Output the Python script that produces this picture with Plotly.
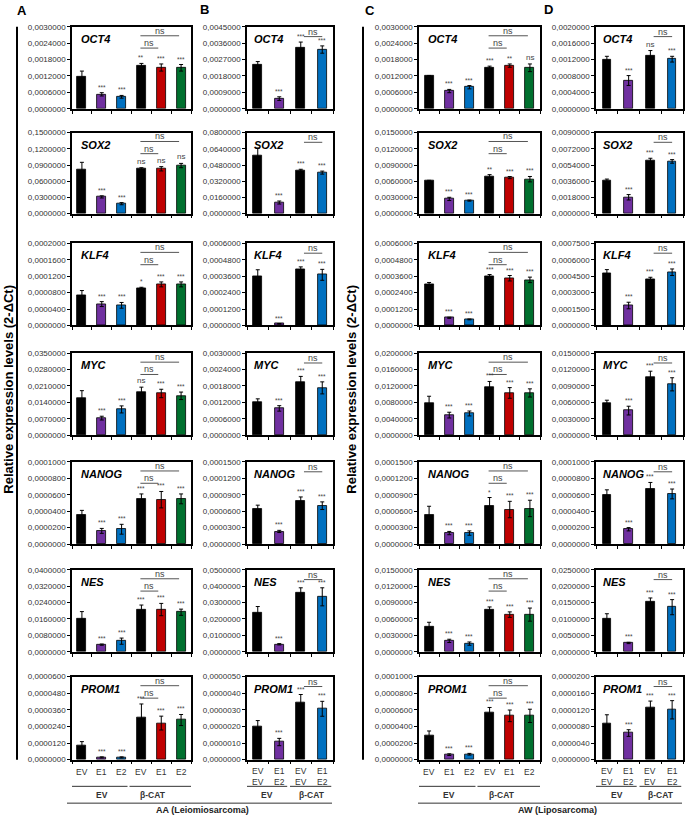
import plotly.graph_objects as go

W, H = 685, 822

GENES = ['OCT4', 'SOX2', 'KLF4', 'MYC', 'NANOG', 'NES', 'PROM1']

# ---- Panel A: AA, EV / beta-CAT x EV E1 E2 ----
A_YMAX = [0.003, 0.15, 0.0002, 0.035, 0.0001, 0.04, 0.00006]
A_MEAN = [
    [0.00118, 0.00053, 0.00044, 0.00157, 0.00151, 0.00150],
    [0.082, 0.031, 0.0185, 0.083, 0.083, 0.089],
    [0.000074, 0.000052, 0.000049, 0.000091, 0.0001, 0.0001],
    [0.0157, 0.0073, 0.011, 0.0185, 0.0178, 0.0168],
    [0.000035, 0.000016, 0.000018, 0.000055, 0.000054, 0.000055],
    [0.016, 0.0035, 0.0052, 0.0206, 0.0206, 0.0193],
    [0.0000105, 0.0000016, 0.0000016, 0.0000302, 0.0000264, 0.0000286],
]
A_ERR = [
    [0.0002, 0.00006, 0.00005, 0.00009, 0.00013, 0.00012],
    [0.013, 0.002, 0.002, 0.002, 0.004, 0.004],
    [0.000011, 0.000006, 0.000007, 0.000002, 0.000006, 0.000006],
    [0.0033, 0.0008, 0.0015, 0.002, 0.0018, 0.0016],
    [0.000006, 0.000003, 0.000006, 0.000006, 0.00001, 0.000006],
    [0.0036, 0.0003, 0.0015, 0.0022, 0.003, 0.0015],
    [0.0000025, 0.0000004, 0.0000004, 0.00001, 0.000005, 0.000004],
]
A_SIG = [
    ['', '***', '***', '**', '***', '***'],
    ['', '***', '***', 'ns', 'ns', 'ns'],
    ['', '***', '***', '*', '***', '***'],
    ['', '***', '***', 'ns', '***', '***'],
    ['', '***', '***', '***', '***', '***'],
    ['', '***', '***', '***', '***', '***'],
    ['', '***', '***', '***', '***', '***'],
]

# ---- Panel B: AA, EV/EV E1/E2 x EV / beta-CAT ----
B_YMAX = [0.0045, 0.08, 0.0006, 0.003, 0.00015, 0.05, 0.000005]
B_MEAN = [
    [0.00244, 0.00056, 0.00336, 0.00325],
    [0.0573, 0.011, 0.0428, 0.0405],
    [0.000357, 0.000012, 0.000408, 0.00037],
    [0.00121, 0.00098, 0.00193, 0.00173],
    [0.000065, 0.000023, 0.000079, 0.00007],
    [0.0241, 0.0046, 0.0362, 0.0335],
    [0.000002, 0.00000106, 0.00000342, 0.00000306],
]
B_ERR = [
    [0.00015, 0.0001, 0.0003, 0.0002],
    [0.0074, 0.0015, 0.001, 0.0015],
    [0.00005, 0.000002, 0.00002, 0.00004],
    [0.00012, 0.0001, 0.00022, 0.00022],
    [0.000006, 0.000002, 0.000007, 0.000007],
    [0.0035, 0.0004, 0.0028, 0.0055],
    [0.00000035, 0.00000022, 0.0000005, 0.00000045],
]
B_SIG = [['', '***', '***', '***']] * 7

# ---- Panel C: AW ----
C_YMAX = [0.003, 0.015, 0.0006, 0.02, 0.00015, 0.015, 0.0001]
C_MEAN = [
    [0.0012, 0.00065, 0.00079, 0.00149, 0.00158, 0.0015],
    [0.00607, 0.00273, 0.00242, 0.00692, 0.00667, 0.00638],
    [0.000304, 0.000056, 0.000044, 0.000357, 0.000345, 0.000333],
    [0.0077, 0.0049, 0.0053, 0.0117, 0.0103, 0.0103],
    [0.000053, 0.00002, 0.00002, 0.00007, 0.000063, 0.000065],
    [0.0045, 0.002, 0.0015, 0.0077, 0.0068, 0.0068],
    [0.0000285, 0.000006, 0.0000065, 0.0000568, 0.0000527, 0.0000527],
]
C_ERR = [
    [0.00002, 0.00006, 0.00006, 0.00007, 0.00006, 0.00014],
    [0.0001, 0.0003, 0.0001, 0.0003, 0.0002, 0.0005],
    [0.00001, 0.000004, 0.000003, 0.000015, 0.00002, 0.00002],
    [0.0018, 0.0007, 0.0006, 0.0014, 0.0013, 0.001],
    [0.000016, 0.000003, 0.000004, 0.000015, 0.000015, 0.000015],
    [0.0009, 0.0003, 0.0003, 0.0005, 0.0005, 0.0012],
    [0.000006, 0.000001, 0.000001, 0.000006, 0.000007, 0.000008],
]
C_SIG = [
    ['', '***', '***', '***', '**', 'ns'],
    ['', '***', '***', '**', '***', '***'],
    ['', '***', '***', '***', '***', '***'],
    ['', '***', '***', '***', '***', '***'],
    ['', '***', '***', '*', '***', '***'],
    ['', '***', '***', '***', '***', '***'],
    ['', '***', '***', '***', '***', '***'],
]

# ---- Panel D: AW ----
D_YMAX = [0.002, 0.009, 0.00075, 0.015, 0.0001, 0.025, 0.00002]
D_MEAN = [
    [0.00119, 0.00069, 0.0013, 0.00121],
    [0.00364, 0.00182, 0.0059, 0.0058],
    [0.00048, 0.000182, 0.000425, 0.000486],
    [0.0059, 0.0045, 0.0106, 0.0093],
    [0.00006, 0.000018, 0.000067, 0.000061],
    [0.0101, 0.0027, 0.0152, 0.0136],
    [0.0000088, 0.0000064, 0.0000126, 0.000012],
]
D_ERR = [
    [0.00009, 0.00012, 0.00012, 0.00007],
    [0.0002, 0.0003, 0.00025, 0.0002],
    [0.00003, 0.00003, 0.000015, 0.00003],
    [0.0005, 0.0008, 0.0011, 0.0012],
    [0.000006, 0.000002, 0.000008, 0.000006],
    [0.0015, 0.0002, 0.0012, 0.0023],
    [0.000002, 0.0000008, 0.0000015, 0.0000022],
]
D_SIG = [['', '***', 'ns', '***']] + [['', '***', '***', '***']] * 6

LABELS6 = ['EV', 'E1', 'E2', 'EV', 'E1', 'E2']
LABELS4 = ['EV<br>EV', 'E1<br>E2', 'EV<br>EV', 'E1<br>E2']

COLORS6 = ['#000000', '#7030A0', '#0070C0', '#000000', '#C00000', '#00702E']
COLORS4 = ['#000000', '#7030A0', '#000000', '#0070C0']

# pixel layout of the plot boxes
PANEL_X = {'A': (72, 191), 'B': (247, 333), 'C': (419, 540), 'D': (596, 683)}
ROW_Y = [(23, 106), (130, 212), (242, 325), (353, 436), (463, 546), (572, 655), (680, 764)]

FONT = 'Liberation Sans, Arial, sans-serif'

panels = {
    'A': (A_YMAX, A_MEAN, A_ERR, A_SIG, LABELS6, COLORS6),
    'B': (B_YMAX, B_MEAN, B_ERR, B_SIG, LABELS4, COLORS4),
    'C': (C_YMAX, C_MEAN, C_ERR, C_SIG, LABELS6, COLORS6),
    'D': (D_YMAX, D_MEAN, D_ERR, D_SIG, LABELS4, COLORS4),
}


def px(x):
    return x / W


def py(y):
    return 1 - y / H


fig = go.Figure()
layout = {}
shapes = []
annotations = []
bottom_axis = {}


def note(**kw):
    kw.setdefault('xanchor', 'center')
    kw.setdefault('yanchor', 'middle')
    kw.setdefault('showarrow', False)
    annotations.append(kw)


k = 0
for name, (ymax, means, errs, sigs, labels, colors) in panels.items():
    n = len(labels)
    x0, x1 = PANEL_X[name]
    for r, gene in enumerate(GENES):
        k += 1
        sx = '' if k == 1 else str(k)
        xa, ya = 'x' + sx, 'y' + sx
        step = ymax[r] / 5
        tvals = [step * i for i in range(6)]
        layout['xaxis' + sx] = dict(
            domain=[px(x0), px(x1)], anchor=ya, range=[-0.5, n - 0.5],
            tickvals=[i - 0.5 for i in range(n + 1)], showticklabels=False,
            ticks='outside', ticklen=3, tickwidth=1, tickcolor='black',
            showline=True, mirror=True, linecolor='black', linewidth=1.6,
            showgrid=False, zeroline=False)
        layout['yaxis' + sx] = dict(
            domain=[py(ROW_Y[r][1]), py(ROW_Y[r][0])], anchor=xa,
            range=[0, ymax[r]], tickvals=tvals,
            ticktext=[f'{v:.7f}'.replace('.', ',') for v in tvals],
            ticks='outside', ticklen=3, tickwidth=1, tickcolor='black',
            tickfont=dict(family=FONT, size=8, color='#333'),
            showline=True, mirror=True, linecolor='black', linewidth=1.6,
            showgrid=False, zeroline=False)

        fig.add_trace(go.Bar(
            x=list(range(n)), y=means[r], xaxis=xa, yaxis=ya,
            width=0.45 if n == 6 else 0.4,
            marker=dict(color=colors, line=dict(color='black', width=0.8)),
            error_y=dict(type='data', array=errs[r], color='black',
                         thickness=1, width=2),
            showlegend=False, hoverinfo='y'))

        # gene name
        note(text=f'<b><i>{gene}</i></b>', xref=xa + ' domain', yref=ya + ' domain',
             x=0.06, y=0.95, xanchor='left', yanchor='top',
             font=dict(family=FONT, size=11, color='black'))

        # significance marks
        for i in range(n):
            s = sigs[r][i]
            if not s:
                continue
            note(text=s, xref=xa, yref=ya, x=i, y=means[r][i] + errs[r][i],
                 yanchor='bottom',
                 font=dict(family=FONT, size=8 if s == 'ns' else 6.5, color='#444'))

        # ns brackets
        if n == 6:
            brackets = [(2.95, 3.85, 0.74), (2.95, 4.9, 0.89)]
        else:
            brackets = [(2.15, 3.0, 0.88)]
        for bx0, bx1, by in brackets:
            shapes.append(dict(type='line', xref=xa, yref=ya + ' domain',
                               x0=bx0, x1=bx1, y0=by, y1=by,
                               line=dict(color='#555', width=1)))
            note(text='ns', xref=xa, yref=ya + ' domain', x=(bx0 + bx1) / 2, y=by,
                 yanchor='bottom', yshift=-2,
                 font=dict(family=FONT, size=9, color='#444'))
    bottom_axis[name] = 'x' + str(k)

# category labels under bottom row
for name, (ymax, means, errs, sigs, labels, colors) in panels.items():
    xa = bottom_axis[name]
    n = len(labels)
    for i, lab in enumerate(labels):
        note(text=lab, xref=xa, yref='paper', x=i, y=py(776 if n == 6 else 781),
             font=dict(family=FONT, size=8.5, color='#333'))
    if n == 6:
        groups = [(-0.55, 2.3, 1.0, 'EV'), (2.4, 5.65, 3.6, 'β-CAT')]
    else:
        groups = [(-0.6, 1.37, 0.45, 'EV'), (1.5, 3.42, 2.5, 'β-CAT')]
    for gx0, gx1, gl, gt in groups:
        shapes.append(dict(type='line', xref=xa, yref='paper', x0=gx0, x1=gx1,
                           y0=py(791), y1=py(791), line=dict(color='#333', width=1)))
        note(text=f'<b>{gt}</b>', xref=xa, yref='paper', x=gl, y=py(800),
             font=dict(family=FONT, size=8.5, color='#333'))

# cell line brackets
for lx0, lx1, tx, txt in [(67, 332, 202, 'AA (Leiomiosarcoma)'),
                          (418, 682, 557, 'AW (Liposarcoma)')]:
    shapes.append(dict(type='line', xref='paper', yref='paper', x0=px(lx0), x1=px(lx1),
                       y0=py(808), y1=py(808), line=dict(color='#333', width=1)))
    note(text=f'<b>{txt}</b>', xref='paper', yref='paper', x=px(tx), y=py(815),
         font=dict(family=FONT, size=9, color='#222'))

# y titles and left rules
for lx, tx in [(17, 9), (363, 352)]:
    shapes.append(dict(type='line', xref='paper', yref='paper', x0=px(lx), x1=px(lx),
                       y0=py(23), y1=py(764), line=dict(color='black', width=2)))
    note(text='<b>Relative expression levels (2-ΔCt)</b>', xref='paper', yref='paper',
         x=px(tx), y=py(390), textangle=-90,
         font=dict(family=FONT, size=13, color='black'))

# panel letters
for letter, lx, ly in [('A', 22, 7), ('B', 204, 6), ('C', 370, 7), ('D', 548, 6)]:
    note(text=f'<b>{letter}</b>', xref='paper', yref='paper', x=px(lx), y=py(ly),
         font=dict(family=FONT, size=13, color='black'))

fig.update_layout(**layout)
fig.update_layout(
    width=W, height=H, margin=dict(l=0, r=0, t=0, b=0),
    paper_bgcolor='white', plot_bgcolor='white', showlegend=False,
    bargap=0, shapes=shapes, annotations=annotations)

fig.write_html('out.html', config={'displayModeBar': False},
               post_script="document.body.style.margin='0';"
                           "document.body.style.overflow='hidden';")
